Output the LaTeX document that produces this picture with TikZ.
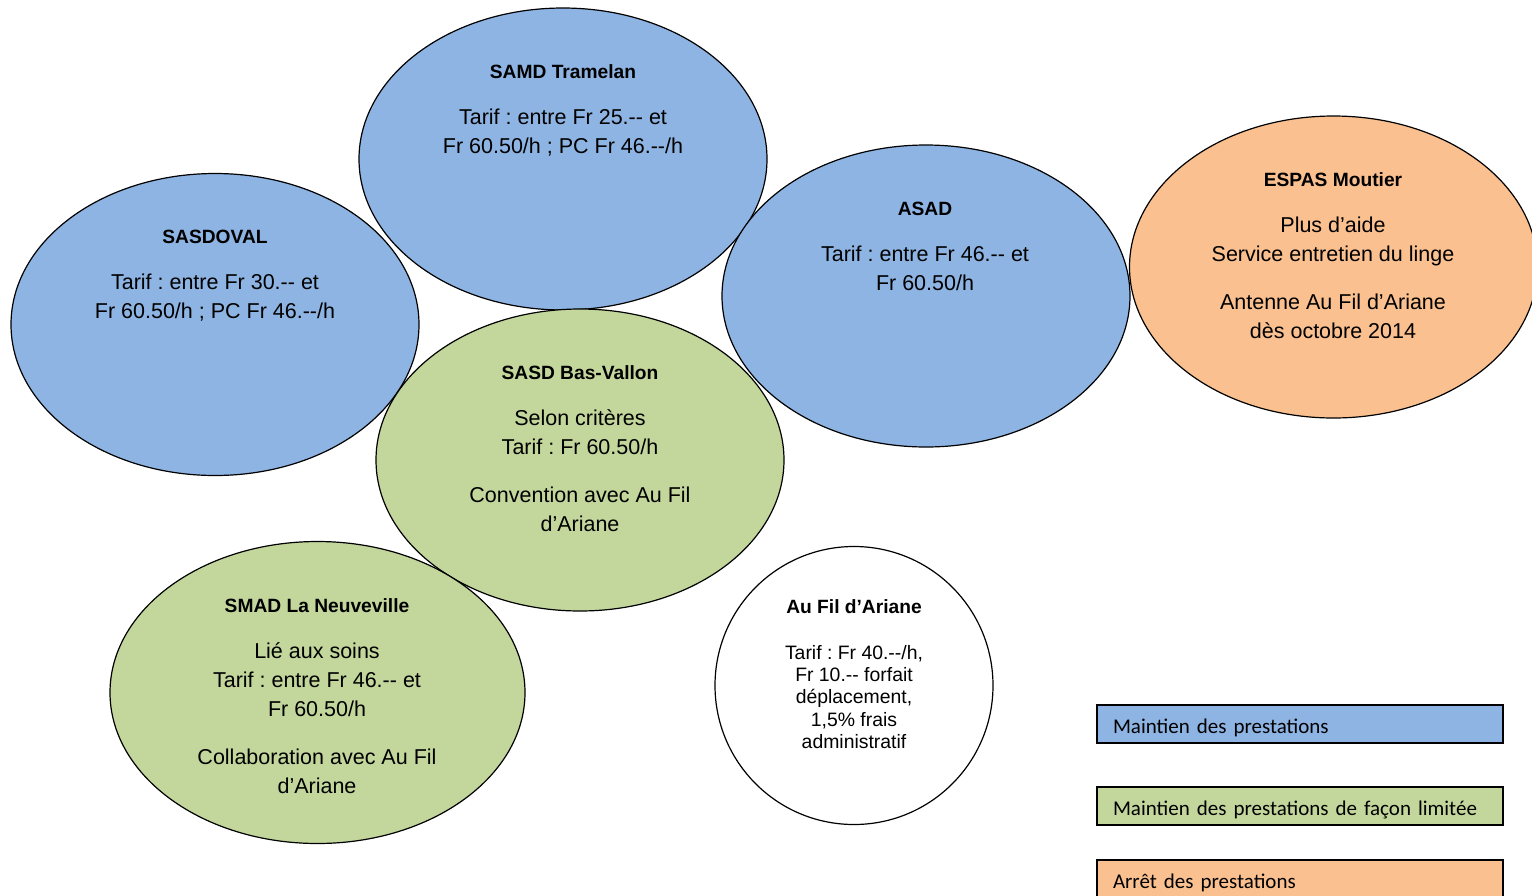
\documentclass[tikz,border=0pt]{standalone}
\usepackage{fontspec}
\setmainfont[Ligatures=NoCommon]{Liberation Sans}
\newfontfamily\legfont{Carlito}
\usetikzlibrary{shapes.geometric}
\definecolor{cblue}{HTML}{8EB4E3}
\definecolor{cgreen}{HTML}{C3D69B}
\definecolor{corange}{HTML}{FAC090}
\frenchspacing
\tikzset{
  bubble/.style={ellipse, draw=black, line width=0.6pt, inner sep=0pt, minimum width=204pt, minimum height=151pt},
  txt/.style={anchor=north, inner sep=0pt, align=center, font=\frenchspacing\fontsize{10.75}{14.5}\selectfont},
  smalltxt/.style={anchor=north, inner sep=0pt, align=center, font=\frenchspacing\fontsize{9.7}{11.15}\selectfont},
  legbox/.style={draw=black, line width=0.8pt, minimum width=203pt, minimum height=19pt, text width=187pt, text height=9.8pt, text depth=0pt, inner xsep=8pt, inner ysep=0pt, align=left, font=\legfont\fontsize{10.5}{12}\selectfont}
}
\newcommand{\ttl}[1]{{\fontsize{9.6}{12}\selectfont\bfseries #1}}
\newcommand{\dd}{-{}-}
\begin{document}
\begin{tikzpicture}[x=0.5pt,y=-0.5pt]
\clip (0,0) rectangle (1532,895);
\fill[white] (0,0) rectangle (1532,895);
% ellipses
\node[bubble, fill=cblue] (samd) at (563,159) {};
\node[bubble, fill=cblue] (sasdoval) at (215,324.5) {};
\node[bubble, fill=cblue] (asad) at (926,296) {};
\node[bubble, fill=cgreen] (basvallon) at (580,460) {};
\node[bubble, fill=cgreen, minimum width=207.5pt] (smad) at (317.5,692.5) {};
\node[bubble, fill=corange] (espas) at (1333.5,267) {};
\node[circle, draw=black, line width=0.6pt, fill=white, minimum size=139pt, inner sep=0pt] (afa) at (854,685.5) {};
% texts
\node[txt] (tsamd) at (563,64) {\ttl{SAMD Tramelan}\\[8.5pt]Tarif : entre Fr 25.\dd{} et\\Fr 60.50/h ; PC Fr 46.\dd/h};
\node[txt] (tsasdoval) at (215,230) {\ttl{SASDOVAL}\\[8.5pt]Tarif : entre Fr 30.\dd{} et\\Fr 60.50/h ; PC Fr 46.\dd/h};
\node[txt] (tasad) at (925,202) {\ttl{ASAD}\\[8.5pt]Tarif : entre Fr 46.\dd{} et\\Fr 60.50/h};
\node[txt] (tbasvallon) at (580,365) {\ttl{SASD Bas-Vallon}\\[8.5pt]Selon critères\\Tarif : Fr 60.50/h\\[9.5pt]Convention avec Au Fil\\d’Ariane};
\node[txt] (tsmad) at (317,598) {\ttl{SMAD La Neuveville}\\[8.5pt]Lié aux soins\\Tarif : entre Fr 46.\dd{} et\\Fr 60.50/h\\[9.5pt]Collaboration avec Au Fil\\d’Ariane};
\node[txt] (tespas) at (1333,172) {\ttl{ESPAS Moutier}\\[8.5pt]Plus d’aide\\Service entretien du linge\\[9.5pt]Antenne Au Fil d’Ariane\\dès octobre 2014};
\node[smalltxt] (tafa) at (854,599) {\ttl{Au Fil d’Ariane}\\[11.85pt]Tarif : Fr 40.\dd/h,\\Fr 10.\dd{} forfait\\déplacement,\\1,5\% frais\\administratif};
% legend
\node[legbox, fill=cblue] (leg1) at (1300,724) {Maintien des prestations};
\node[legbox, fill=cgreen] (leg2) at (1300,806) {Maintien des prestations de façon limitée};
\node[legbox, fill=corange] (leg3) at (1300,879) {Arrêt des prestations};
\end{tikzpicture}
\end{document}
